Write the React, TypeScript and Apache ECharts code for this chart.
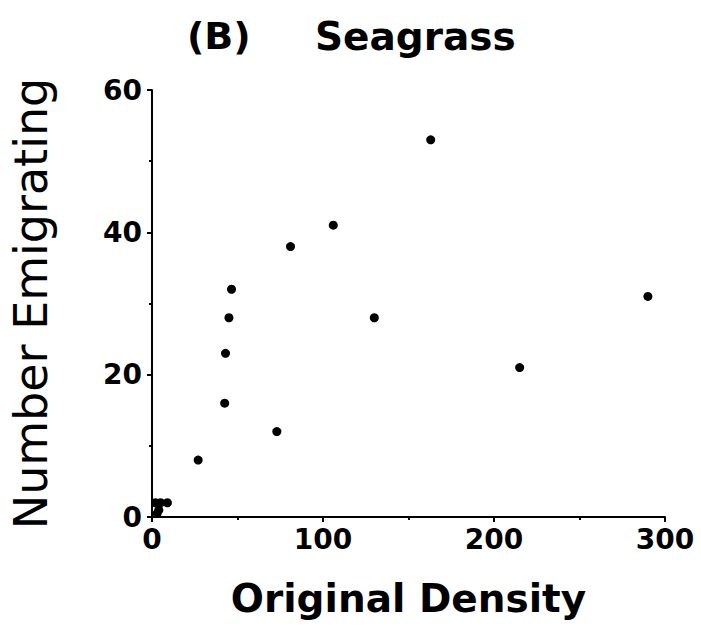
import React, { useEffect, useRef } from "react";
import * as echarts from "echarts";

const densities = [2, 5, 9, 4, 3, 27, 42.5, 43, 45, 46.5, 73, 81, 106, 130, 163, 215, 290];
const emigrants = [2, 2, 2, 1, 0.5, 8, 16, 23, 28, 32, 12, 38, 41, 28, 53, 21, 31];
const xTicks = [0, 100, 200, 300];
const yTicks = [0, 20, 40, 60];
const panelLabel = "(B)";
const panelTitle = "Seagrass";
const xName = "Original Density";
const yName = "Number Emigrating";

const FONT = "DejaVu Sans";

export default function App() {
  const ref = useRef<HTMLDivElement>(null);
  useEffect(() => {
    document.body.style.margin = "0";
    if (!ref.current) return;
    const chart = echarts.init(ref.current, null, { renderer: "svg" });
    const points = densities.map((d, i) => [d, emigrants[i]]);
    chart.setOption({
      animation: false,
      backgroundColor: "#ffffff",
      title: [
        {
          text: panelLabel,
          left: 182,
          top: 12,
          textStyle: { fontFamily: FONT, fontWeight: "bold", fontSize: 38, color: "#000" },
        },
        {
          text: panelTitle,
          left: 310,
          top: 12,
          textStyle: { fontFamily: FONT, fontWeight: "bold", fontSize: 39, color: "#000" },
        },
      ],
      grid: { left: 151, right: 36, top: 90, bottom: 111, containLabel: false },
      xAxis: {
        type: "value",
        min: xTicks[0],
        max: xTicks[xTicks.length - 1],
        interval: 100,
        name: xName,
        nameLocation: "middle",
        nameGap: 62,
        nameTextStyle: { fontFamily: FONT, fontWeight: "bold", fontSize: 39, color: "#000" },
        axisLine: { show: true, lineStyle: { color: "#000", width: 2 } },
        axisTick: { show: true, inside: false, length: 5, lineStyle: { color: "#000", width: 2 } },
        minorTick: { show: true, splitNumber: 2, length: 3, lineStyle: { color: "#000", width: 2 } },
        splitLine: { show: false },
        axisLabel: {
          fontFamily: FONT,
          fontWeight: "bold",
          fontSize: 28,
          color: "#000",
          margin: 8,
        },
      },
      yAxis: {
        type: "value",
        min: yTicks[0],
        max: yTicks[yTicks.length - 1],
        interval: 20,
        name: yName,
        nameLocation: "middle",
        nameGap: 98,
        nameTextStyle: { fontFamily: FONT, fontWeight: "normal", fontSize: 46, color: "#000" },
        axisLine: { show: true, lineStyle: { color: "#000", width: 2 } },
        axisTick: { show: true, inside: false, length: 5, lineStyle: { color: "#000", width: 2 } },
        minorTick: { show: true, splitNumber: 2, length: 3, lineStyle: { color: "#000", width: 2 } },
        splitLine: { show: false },
        axisLabel: {
          fontFamily: FONT,
          fontWeight: "bold",
          fontSize: 28,
          color: "#000",
          margin: 10,
        },
      },
      series: [
        {
          type: "scatter",
          data: points,
          symbol: "circle",
          symbolSize: 9,
          itemStyle: { color: "#000", opacity: 1 },
        },
      ],
    });
    return () => chart.dispose();
  }, []);
  return <div ref={ref} style={{ width: 701, height: 628 }} />;
}
